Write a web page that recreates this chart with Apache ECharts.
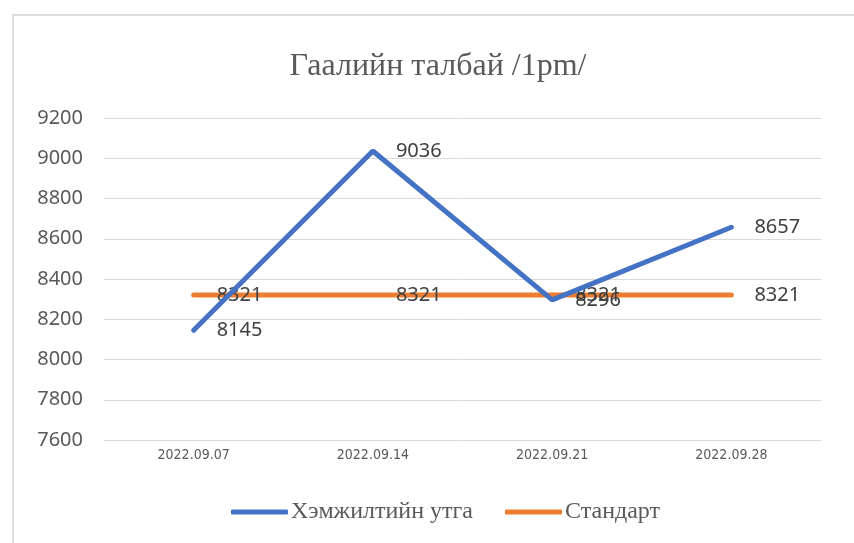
<!DOCTYPE html>
<html>
<head>
<meta charset="utf-8">
<script src="https://cdn.jsdelivr.net/npm/echarts@6/dist/echarts.min.js"></script>
<style>
  html, body { margin: 0; padding: 0; background: #fff; overflow: hidden; }
  #wrap { position: relative; width: 854px; height: 543px; }
  #frame { position: absolute; left: 12px; top: 14px; width: 900px; height: 600px; border: 2px solid #dcdcdc; box-sizing: border-box; }
  #main { position: absolute; left: 0; top: 0; width: 854px; height: 543px; }
</style>
</head>
<body>
<div id="wrap">
  <div id="frame"></div>
  <div id="main"></div>
</div>
<script>
const dates = ['2022.09.07', '2022.09.14', '2022.09.21', '2022.09.28']
const measured = [8145, 9036, 8296, 8657]
const standard = [8321, 8321, 8321, 8321]

const chart = echarts.init(document.getElementById('main'))

function labelStyle() {
  return {
    show: true,
    position: 'right',
    distance: 23,
    color: '#404040',
    fontSize: 20,
    fontFamily: 'Noto Sans'
  }
}

chart.setOption({
  animation: false,
  title: {
    text: 'Гаалийн талбай /1pm/',
    left: 433,
    textAlign: 'center',
    top: 46,
    textStyle: {
      fontFamily: 'Liberation Serif',
      fontWeight: 'normal',
      fontSize: 32,
      color: '#595959'
    }
  },
  legend: {
    bottom: 14,
    left: 226,
    itemWidth: 57,
    itemHeight: 5,
    itemGap: 32,
    icon: 'roundRect',
    textStyle: {
      fontFamily: 'Liberation Serif',
      fontSize: 24,
      color: '#595959',
      padding: [0, 0, 0, -2]
    },
    data: [
      { name: 'Хэмжилтийн утга', itemStyle: { color: '#4472C4' } },
      { name: 'Стандарт', itemStyle: { color: '#ED7D31' } }
    ]
  },
  grid: {
    left: 104,
    right: 33,
    top: 118,
    bottom: 103
  },
  xAxis: {
    type: 'category',
    data: dates,
    axisLine: { show: false },
    axisTick: { show: false },
    axisLabel: {
      margin: 8,
      fontFamily: 'DejaVu Sans Condensed, Liberation Sans',
      fontSize: 14,
      color: '#595959'
    }
  },
  yAxis: {
    type: 'value',
    min: 7600,
    max: 9200,
    interval: 200,
    axisLine: { show: false },
    axisTick: { show: false },
    axisLabel: {
      margin: 21,
      fontFamily: 'Noto Sans',
      fontSize: 20,
      color: '#595959',
      formatter: (v) => String(v)
    },
    splitLine: { lineStyle: { color: '#d9d9d9', width: 1 } }
  },
  series: [
    {
      name: 'Хэмжилтийн утга',
      type: 'line',
      data: measured,
      symbol: 'circle',
      symbolSize: 0.1,
      showSymbol: true,
      color: '#4472C4',
      lineStyle: { width: 5, color: '#4472C4', cap: 'round' },
      label: labelStyle(),
      z: 3
    },
    {
      name: 'Стандарт',
      type: 'line',
      data: standard,
      symbol: 'circle',
      symbolSize: 0.1,
      showSymbol: true,
      color: '#ED7D31',
      lineStyle: { width: 5, color: '#ED7D31', cap: 'round' },
      label: labelStyle(),
      z: 2
    }
  ]
})
</script>
</body>
</html>
